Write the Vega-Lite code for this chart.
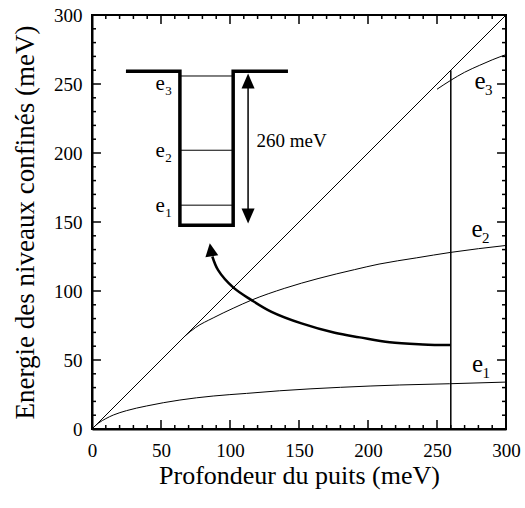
{
  "$schema": "https://vega.github.io/schema/vega-lite/v6.json",
  "width": 414,
  "height": 414,
  "autosize": {"type": "none"},
  "padding": {"left": 92, "top": 15, "right": 19, "bottom": 79},
  "background": "white",
  "config": {
    "view": {"stroke": "black", "strokeWidth": 2},
    "font": "Liberation Serif",
    "axis": {
      "domainColor": "black", "domainWidth": 2, "ticks": false, "grid": false,
      "labelFont": "Liberation Serif", "titleFont": "Liberation Serif",
      "labelColor": "black", "titleColor": "black", "titleFontWeight": "normal",
      "labelFontSize": 19, "labelOverlap": false, "labelFlush": false
    }
  },
  "datasets": {
    "diag": [{"x": 0, "y": 0}, {"x": 300, "y": 300}],
    "ticks": [
      {"v": 10, "k": "minor"}, {"v": 20, "k": "minor"}, {"v": 30, "k": "minor"}, {"v": 40, "k": "minor"}, {"v": 50, "k": "major"},
      {"v": 60, "k": "minor"}, {"v": 70, "k": "minor"}, {"v": 80, "k": "minor"}, {"v": 90, "k": "minor"}, {"v": 100, "k": "major"},
      {"v": 110, "k": "minor"}, {"v": 120, "k": "minor"}, {"v": 130, "k": "minor"}, {"v": 140, "k": "minor"}, {"v": 150, "k": "major"},
      {"v": 160, "k": "minor"}, {"v": 170, "k": "minor"}, {"v": 180, "k": "minor"}, {"v": 190, "k": "minor"}, {"v": 200, "k": "major"},
      {"v": 210, "k": "minor"}, {"v": 220, "k": "minor"}, {"v": 230, "k": "minor"}, {"v": 240, "k": "minor"}, {"v": 250, "k": "major"},
      {"v": 260, "k": "minor"}, {"v": 270, "k": "minor"}, {"v": 280, "k": "minor"}, {"v": 290, "k": "minor"}
    ],
    "curves": [
      {"s": "e1", "x": 0, "y": 0}, {"s": "e1", "x": 2, "y": 2}, {"s": "e1", "x": 5, "y": 4.5}, {"s": "e1", "x": 10, "y": 7.5},
      {"s": "e1", "x": 15.4, "y": 10.1}, {"s": "e1", "x": 25, "y": 13.3}, {"s": "e1", "x": 39.6, "y": 16.7}, {"s": "e1", "x": 63.7, "y": 21},
      {"s": "e1", "x": 87.8, "y": 23.9}, {"s": "e1", "x": 112, "y": 25.8}, {"s": "e1", "x": 136, "y": 27.7}, {"s": "e1", "x": 180, "y": 30.2},
      {"s": "e1", "x": 223, "y": 31.9}, {"s": "e1", "x": 259, "y": 32.8}, {"s": "e1", "x": 300, "y": 34},
      {"s": "e2", "x": 67.3, "y": 67.3}, {"s": "e2", "x": 75, "y": 73.5}, {"s": "e2", "x": 87.8, "y": 80.5}, {"s": "e2", "x": 102.3, "y": 87.5},
      {"s": "e2", "x": 115.6, "y": 93.4}, {"s": "e2", "x": 139.7, "y": 102}, {"s": "e2", "x": 163.8, "y": 109}, {"s": "e2", "x": 190.3, "y": 115.5},
      {"s": "e2", "x": 208, "y": 119.5}, {"s": "e2", "x": 235, "y": 124}, {"s": "e2", "x": 260, "y": 128}, {"s": "e2", "x": 300, "y": 133},
      {"s": "e3", "x": 250, "y": 246.2}, {"s": "e3", "x": 260, "y": 252.7}, {"s": "e3", "x": 270, "y": 258.5}, {"s": "e3", "x": 281, "y": 263.6},
      {"s": "e3", "x": 290, "y": 267.5}, {"s": "e3", "x": 300, "y": 271.3}
    ],
    "vline": [{"x": 260, "y0": 0, "y1": 260}],
    "arrow": [
      {"o": 1, "x": 259.8, "y": 60.8}, {"o": 2, "x": 239.8, "y": 61.3}, {"o": 3, "x": 215.7, "y": 62.8}, {"o": 4, "x": 194, "y": 66.4},
      {"o": 5, "x": 175.9, "y": 69.7}, {"o": 6, "x": 151.8, "y": 76.5}, {"o": 7, "x": 130.1, "y": 84.9}, {"o": 8, "x": 115.6, "y": 93.4},
      {"o": 9, "x": 102.3, "y": 102.6}, {"o": 10, "x": 91.4, "y": 115.1}, {"o": 11, "x": 87.2, "y": 125}
    ],
    "arrowhead": [{"x": 86.1, "y": 129.9}],
    "well": [
      {"o": 1, "x": 24.6, "y": 259.2}, {"o": 2, "x": 63.7, "y": 259.2}, {"o": 3, "x": 63.7, "y": 147.7},
      {"o": 4, "x": 102.3, "y": 147.7}, {"o": 5, "x": 102.3, "y": 259.2}, {"o": 6, "x": 142, "y": 259.2}
    ],
    "levels": [
      {"x1": 63.7, "x2": 102.3, "y": 255.8}, {"x1": 63.7, "x2": 102.3, "y": 202}, {"x1": 63.7, "x2": 102.3, "y": 162.2}
    ],
    "depth": [{"x": 113.1, "y0": 154.4, "y1": 252.1}],
    "depthtop": [{"x": 113.1, "y": 252.1}],
    "depthbot": [{"x": 113.1, "y": 154.4}],
    "depthlabel": [{"x": 119.2, "y": 204.4, "t": "260 meV"}],
    "insetlabels": [
      {"x": 49.4, "y": 245.5, "e": "e", "n": "3"}, {"x": 49.4, "y": 197.2, "e": "e", "n": "2"}, {"x": 49.4, "y": 157.4, "e": "e", "n": "1"}
    ],
    "sidelabels": [
      {"x": 281.2, "y": 246.7, "e": "e", "n": "3"}, {"x": 279.0, "y": 139.2, "e": "e", "n": "2"}, {"x": 279.4, "y": 41.5, "e": "e", "n": "1"}
    ]
  },
  "layer": [
    {
      "data": {"name": "diag"},
      "mark": {"type": "line", "color": "black", "strokeWidth": 1},
      "encoding": {
        "x": {"field": "x", "type": "quantitative", "scale": {"domain": [0, 300], "nice": false},
              "axis": {"orient": "bottom", "title": "Profondeur du puits (meV)", "values": [0, 50, 100, 150, 200, 250, 300],
                       "labelPadding": 12, "titlePadding": 2, "titleFontSize": 26}},
        "y": {"field": "y", "type": "quantitative", "scale": {"domain": [0, 300], "nice": false},
              "axis": {"orient": "left", "title": "Energie des niveaux confinés (meV)", "values": [0, 50, 100, 150, 200, 250, 300],
                       "labelPadding": 10, "titlePadding": 14, "titleFontSize": 27}}
      }
    },
    {
      "data": {"name": "ticks"},
      "transform": [{"filter": "datum.k === 'major'"}],
      "mark": {"type": "rule", "color": "black", "strokeWidth": 1.5},
      "encoding": {
        "x": {"field": "v", "type": "quantitative"},
        "y": {"datum": 0, "type": "quantitative"},
        "y2": {"datum": 6.5}
      }
    },
    {
      "data": {"name": "ticks"},
      "transform": [{"filter": "datum.k === 'minor'"}],
      "mark": {"type": "rule", "color": "black", "strokeWidth": 1.5},
      "encoding": {
        "x": {"field": "v", "type": "quantitative"},
        "y": {"datum": 0, "type": "quantitative"},
        "y2": {"datum": 2.9}
      }
    },
    {
      "data": {"name": "ticks"},
      "transform": [{"filter": "datum.k === 'major'"}],
      "mark": {"type": "rule", "color": "black", "strokeWidth": 1.5},
      "encoding": {
        "x": {"field": "v", "type": "quantitative"},
        "y": {"datum": 300, "type": "quantitative"},
        "y2": {"datum": 293.5}
      }
    },
    {
      "data": {"name": "ticks"},
      "transform": [{"filter": "datum.k === 'minor'"}],
      "mark": {"type": "rule", "color": "black", "strokeWidth": 1.5},
      "encoding": {
        "x": {"field": "v", "type": "quantitative"},
        "y": {"datum": 300, "type": "quantitative"},
        "y2": {"datum": 297.1}
      }
    },
    {
      "data": {"name": "ticks"},
      "transform": [{"filter": "datum.k === 'major'"}],
      "mark": {"type": "rule", "color": "black", "strokeWidth": 1.5},
      "encoding": {
        "y": {"field": "v", "type": "quantitative"},
        "x": {"datum": 0, "type": "quantitative"},
        "x2": {"datum": 6.5}
      }
    },
    {
      "data": {"name": "ticks"},
      "transform": [{"filter": "datum.k === 'minor'"}],
      "mark": {"type": "rule", "color": "black", "strokeWidth": 1.5},
      "encoding": {
        "y": {"field": "v", "type": "quantitative"},
        "x": {"datum": 0, "type": "quantitative"},
        "x2": {"datum": 2.9}
      }
    },
    {
      "data": {"name": "ticks"},
      "transform": [{"filter": "datum.k === 'major'"}],
      "mark": {"type": "rule", "color": "black", "strokeWidth": 1.5},
      "encoding": {
        "y": {"field": "v", "type": "quantitative"},
        "x": {"datum": 300, "type": "quantitative"},
        "x2": {"datum": 293.5}
      }
    },
    {
      "data": {"name": "ticks"},
      "transform": [{"filter": "datum.k === 'minor'"}],
      "mark": {"type": "rule", "color": "black", "strokeWidth": 1.5},
      "encoding": {
        "y": {"field": "v", "type": "quantitative"},
        "x": {"datum": 300, "type": "quantitative"},
        "x2": {"datum": 297.1}
      }
    },
    {
      "data": {"name": "curves"},
      "mark": {"type": "line", "color": "black", "strokeWidth": 1, "interpolate": "monotone"},
      "encoding": {
        "x": {"field": "x", "type": "quantitative"},
        "y": {"field": "y", "type": "quantitative"},
        "detail": {"field": "s", "type": "nominal"}
      }
    },
    {
      "data": {"name": "vline"},
      "mark": {"type": "rule", "color": "black", "strokeWidth": 1.5},
      "encoding": {
        "x": {"field": "x", "type": "quantitative"},
        "y": {"field": "y0", "type": "quantitative"},
        "y2": {"field": "y1"}
      }
    },
    {
      "data": {"name": "arrow"},
      "mark": {"type": "line", "color": "black", "strokeWidth": 2.5, "interpolate": "catmull-rom"},
      "encoding": {
        "x": {"field": "x", "type": "quantitative"},
        "y": {"field": "y", "type": "quantitative"},
        "order": {"field": "o", "type": "quantitative"}
      }
    },
    {
      "data": {"name": "arrowhead"},
      "mark": {"type": "point", "shape": "M-1,1L0,-1L1,1Z", "size": 169, "angle": -9, "filled": true, "color": "black", "opacity": 1},
      "encoding": {
        "x": {"field": "x", "type": "quantitative"},
        "y": {"field": "y", "type": "quantitative"}
      }
    },
    {
      "data": {"name": "well"},
      "mark": {"type": "line", "color": "black", "strokeWidth": 3.5, "strokeJoin": "miter", "strokeCap": "butt"},
      "encoding": {
        "x": {"field": "x", "type": "quantitative"},
        "y": {"field": "y", "type": "quantitative"},
        "order": {"field": "o", "type": "quantitative"}
      }
    },
    {
      "data": {"name": "levels"},
      "mark": {"type": "rule", "color": "black", "strokeWidth": 1},
      "encoding": {
        "x": {"field": "x1", "type": "quantitative"},
        "x2": {"field": "x2"},
        "y": {"field": "y", "type": "quantitative"}
      }
    },
    {
      "data": {"name": "depth"},
      "mark": {"type": "rule", "color": "black", "strokeWidth": 1.5},
      "encoding": {
        "x": {"field": "x", "type": "quantitative"},
        "y": {"field": "y0", "type": "quantitative"},
        "y2": {"field": "y1"}
      }
    },
    {
      "data": {"name": "depthtop"},
      "mark": {"type": "point", "shape": "M-0.87,1L0,-1L0.87,1Z", "size": 225, "filled": true, "color": "black", "opacity": 1},
      "encoding": {
        "x": {"field": "x", "type": "quantitative"},
        "y": {"field": "y", "type": "quantitative"}
      }
    },
    {
      "data": {"name": "depthbot"},
      "mark": {"type": "point", "shape": "M-0.87,-1L0,1L0.87,-1Z", "size": 225, "filled": true, "color": "black", "opacity": 1},
      "encoding": {
        "x": {"field": "x", "type": "quantitative"},
        "y": {"field": "y", "type": "quantitative"}
      }
    },
    {
      "data": {"name": "depthlabel"},
      "mark": {"type": "text", "align": "left", "baseline": "alphabetic", "fontSize": 19, "font": "Liberation Serif", "color": "black"},
      "encoding": {
        "x": {"field": "x", "type": "quantitative"},
        "y": {"field": "y", "type": "quantitative"},
        "text": {"field": "t"}
      }
    },
    {
      "data": {"name": "insetlabels"},
      "mark": {"type": "text", "align": "center", "baseline": "alphabetic", "fontSize": 21, "font": "Liberation Serif", "color": "black"},
      "encoding": {
        "x": {"field": "x", "type": "quantitative"},
        "y": {"field": "y", "type": "quantitative"},
        "text": {"field": "e"}
      }
    },
    {
      "data": {"name": "insetlabels"},
      "mark": {"type": "text", "align": "left", "baseline": "alphabetic", "fontSize": 13, "font": "Liberation Serif", "color": "black", "dx": 5, "dy": 5},
      "encoding": {
        "x": {"field": "x", "type": "quantitative"},
        "y": {"field": "y", "type": "quantitative"},
        "text": {"field": "n"}
      }
    },
    {
      "data": {"name": "sidelabels"},
      "mark": {"type": "text", "align": "center", "baseline": "alphabetic", "fontSize": 25, "font": "Liberation Serif", "color": "black"},
      "encoding": {
        "x": {"field": "x", "type": "quantitative"},
        "y": {"field": "y", "type": "quantitative"},
        "text": {"field": "e"}
      }
    },
    {
      "data": {"name": "sidelabels"},
      "mark": {"type": "text", "align": "left", "baseline": "alphabetic", "fontSize": 15, "font": "Liberation Serif", "color": "black", "dx": 5, "dy": 6},
      "encoding": {
        "x": {"field": "x", "type": "quantitative"},
        "y": {"field": "y", "type": "quantitative"},
        "text": {"field": "n"}
      }
    }
  ]
}
